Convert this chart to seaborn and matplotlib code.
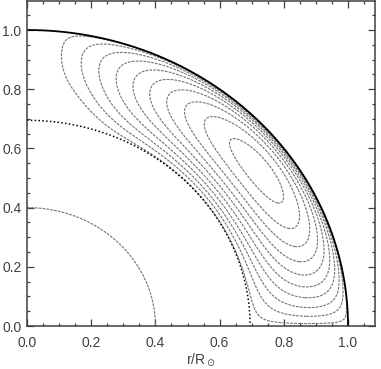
import numpy as np
import pandas as pd
import matplotlib
matplotlib.use("Agg")
import matplotlib.pyplot as plt
import seaborn as sns

# radii of the drawn boundaries (units of R_sun)
surface_r = 1.0
tachocline_r = 0.695
core_r = 0.40

# circulation cell
cell_base = [0.69, 0.156, 0.236]  # bottom at low latitude, rise near pole, width (rad)
radial_pq = [1.0, 0.52]           # rho^p (1-rho)^q
colat_ab = [1.5, 0.8]             # sin^a cos^b
polar_cut = 0.12                  # rad, flow dies out towards the pole
levels = [0.05, 0.15, 0.25, 0.35, 0.45, 0.55, 0.65, 0.75, 0.85, 0.95]

sns.set_theme(style="ticks")
plt.rcParams["font.family"] = ["Liberation Sans", "DejaVu Sans"]

fig = plt.figure(figsize=(3.81, 3.69), dpi=100)
ax = fig.add_axes([27 / 381, 43 / 369, 348 / 381, 325 / 369])

# stream function on a grid
g = np.linspace(0, 1.0, 700)
X, Y = np.meshgrid(g, g)
R = np.hypot(X, Y)
TH = np.arctan2(X, Y)  # colatitude
base = cell_base[0] + cell_base[1] * np.exp(-(TH / cell_base[2]) ** 2)
rho = np.clip((R - base) / (1 - base), 0, 1)
F = rho ** radial_pq[0] * (1 - rho) ** radial_pq[1]
G = np.sin(TH) ** colat_ab[0] * np.cos(TH) ** colat_ab[1]
G = G * (1 - np.exp(-(TH / polar_cut) ** 2))
psi = F * G
psi[R > surface_r] = 0
psi = psi / psi.max()
dash = (0, (2.5, 1))
ax.contour(X, Y, psi, levels=levels, colors="0.45", linewidths=0.8,
           linestyles=[dash] * len(levels))

# boundary circles
t = np.linspace(0, np.pi / 2, 300)
circles = pd.concat([
    pd.DataFrame({"x": r * np.sin(t), "y": r * np.cos(t), "name": n})
    for r, n in [(surface_r, "surface"), (tachocline_r, "tachocline"), (core_r, "core")]
])
sns.lineplot(data=circles[circles.name == "surface"], x="x", y="y", sort=False,
             color="black", linewidth=1.3, ax=ax)
sns.lineplot(data=circles[circles.name == "tachocline"], x="x", y="y", sort=False,
             color="black", linewidth=1.1, linestyle=(0, (1, 1.5)), ax=ax)
sns.lineplot(data=circles[circles.name == "core"], x="x", y="y", sort=False,
             color="0.45", linewidth=0.8, linestyle=dash, ax=ax)

ax.set_xlim(0, 1.084)
ax.set_ylim(0, 1.098)
ax.set_xticks(np.arange(0, 1.01, 0.2))
ax.set_yticks(np.arange(0, 1.01, 0.2))
ax.set_xticks(np.arange(0, 1.08, 0.05), minor=True)
ax.set_yticks(np.arange(0, 1.09, 0.05), minor=True)
ax.xaxis.set_major_formatter(plt.FormatStrFormatter("%.1f"))
ax.yaxis.set_major_formatter(plt.FormatStrFormatter("%.1f"))
ax.tick_params(which="both", direction="in", top=True, right=True,
               color="0.25", labelsize=10, labelcolor="0.25")
ax.tick_params(axis="y", pad=4)
ax.tick_params(axis="x", pad=7)
ax.tick_params(which="major", length=5, width=0.9)
ax.tick_params(which="minor", length=2.5, width=0.9)
for s in ax.spines.values():
    s.set_color("0.25")
    s.set_linewidth(1.1)
ax.set_xlabel(r"r/R$_\odot$", fontsize=10, color="0.25", labelpad=1)
ax.set_ylabel("")

fig.savefig("out.png", dpi=100)
